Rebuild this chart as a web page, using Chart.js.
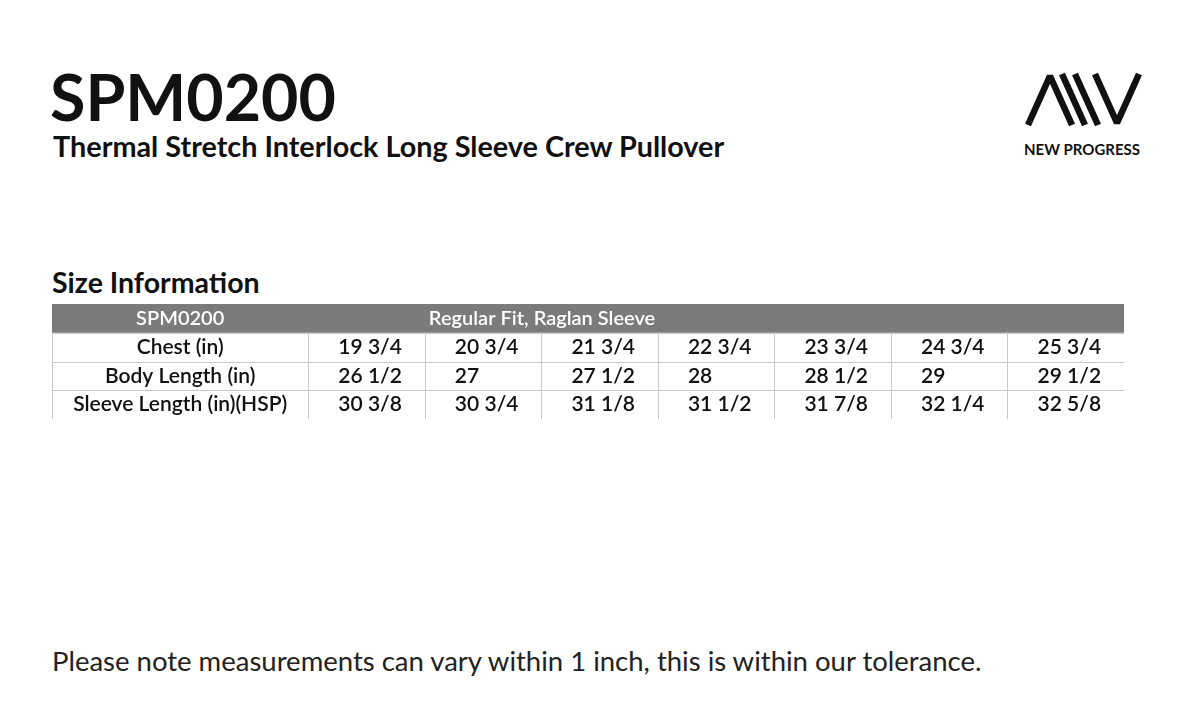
<html lang="en">
<head>
<meta charset="UTF-8">
<script src="https://cdn.jsdelivr.net/npm/chart.js"></script>
<style>
  body, html { margin: 0; padding: 0; background: #fff; font-family: Lato, sans-serif; color: #111; }
  .page { position: relative; width: 1200px; height: 716px; overflow: hidden; }
  .t { position: absolute; white-space: nowrap; line-height: 1; }
  #tbl { position: absolute; left: 52px; top: 304px; width: 1072px; height: 115px; }
</style>
</head>
<body>
<div class="page">
  <div class="t" style="left:50px;top:64px;font-size:64.5px;font-weight:700;">SPM0200</div>
  <div class="t" style="left:53px;top:132px;font-size:28.8px;font-weight:700;">Thermal Stretch Interlock Long Sleeve Crew Pullover</div>
  <div class="t" style="left:52px;top:268px;font-size:28.5px;font-weight:700;">Size Information</div>
  <div class="t" style="left:52px;top:647px;font-size:27.5px;font-weight:400;color:#222;">Please note measurements can vary within 1 inch, this is within our tolerance.</div>
  <svg style="position:absolute;left:0;top:0" width="1200" height="716">
    <g stroke="#111" stroke-width="6.5" fill="none" stroke-linejoin="bevel" stroke-linecap="butt">
      <polyline points="1028,125 1050,76 1072,125"/>
      <line x1="1062" y1="74" x2="1085" y2="125"/>
      <line x1="1075" y1="74" x2="1098" y2="125"/>
      <polyline points="1095,74 1117,123 1139,74"/>
    </g>
  </svg>
  <div class="t" style="left:1024px;top:142px;font-size:15px;font-weight:700;">NEW PROGRESS</div>
  <div id="tbl"><canvas id="c"></canvas></div>
</div>
<script>
const headerLabel = 'SPM0200';
const headerTitle = 'Regular Fit, Raglan Sleeve';
const rowLabels = ['Chest (in)', 'Body Length (in)', 'Sleeve Length (in)(HSP)'];
const chest = ['19 3/4', '20 3/4', '21 3/4', '22 3/4', '23 3/4', '24 3/4', '25 3/4'];
const bodyLength = ['26 1/2', '27', '27 1/2', '28', '28 1/2', '29', '29 1/2'];
const sleeveLength = ['30 3/8', '30 3/4', '31 1/8', '31 1/2', '31 7/8', '32 1/4', '32 5/8'];
const rows = [chest, bodyLength, sleeveLength];
// column edges in column units: label column is wider than size columns
const colEdges = [0, 2.2, 3.2, 4.2, 5.2, 6.2, 7.2, 8.2, 9.2];

Chart.register({
  id: 'tableCells',
  afterDraw(chart) {
    const { ctx, scales: { x, y } } = chart;
    const left = x.getPixelForValue(0), right = x.getPixelForValue(9.2);
    const bandH = y.getPixelForValue(1) - y.getPixelForValue(0);
    const rowTop = i => y.getPixelForValue(i) - bandH / 2;
    ctx.save();
    // header band
    ctx.fillStyle = '#7b7b7b';
    ctx.fillRect(left, rowTop(0), right - left, bandH);
    ctx.font = '600 20px Lato';
    ctx.fillStyle = '#fff';
    ctx.textBaseline = 'middle';
    ctx.textAlign = 'center';
    ctx.fillText(headerLabel, (left + x.getPixelForValue(2.2)) / 2, y.getPixelForValue(0));
    ctx.textAlign = 'left';
    ctx.fillText(headerTitle, x.getPixelForValue(3.2) + 4, y.getPixelForValue(0));
    // grid
    ctx.strokeStyle = '#c8c8c8';
    ctx.lineWidth = 1;
    for (let r = 1; r <= 4; r++) {
      ctx.beginPath();
      ctx.moveTo(left, Math.round(rowTop(r)) + 0.5);
      ctx.lineTo(right, Math.round(rowTop(r)) + 0.5);
      ctx.stroke();
    }
    colEdges.forEach(v => {
      const px = Math.round(x.getPixelForValue(v)) + 0.5;
      ctx.beginPath();
      ctx.moveTo(px, rowTop(1));
      ctx.lineTo(px, rowTop(4));
      ctx.stroke();
    });
    ctx.strokeStyle = '#555';
    ctx.beginPath();
    ctx.moveTo(left, rowTop(4) + 1);
    ctx.lineTo(right, rowTop(4) + 1);
    ctx.stroke();
    // cells
    ctx.fillStyle = '#111';
    ctx.font = '600 21px Lato';
    rows.forEach((vals, r) => {
      const cy = y.getPixelForValue(r + 1);
      ctx.textAlign = 'center';
      ctx.fillText(rowLabels[r], (left + x.getPixelForValue(2.2)) / 2, cy);
      ctx.textAlign = 'left';
      vals.forEach((v, c) => ctx.fillText(v, x.getPixelForValue(colEdges[c + 1]) + 30, cy));
    });
    ctx.restore();
  }
});

new Chart(document.getElementById('c'), {
  type: 'scatter',
  data: { labels: ['h', 'r1', 'r2', 'r3'], datasets: [{ data: [] }] },
  options: {
    responsive: true,
    maintainAspectRatio: false,
    animation: false,
    layout: { padding: 0 },
    plugins: { legend: { display: false }, tooltip: { enabled: false } },
    scales: {
      x: { type: 'linear', min: 0, max: 9.2, display: false },
      y: { type: 'category', labels: ['h', 'r1', 'r2', 'r3'], offset: true, display: false }
    }
  }
});
</script>
</body>
</html>
